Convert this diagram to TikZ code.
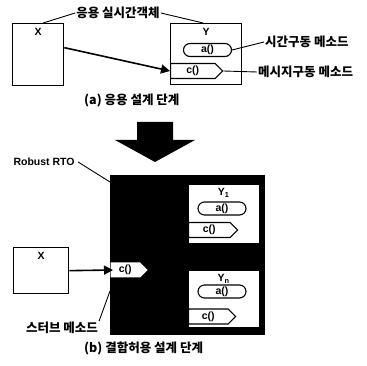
\documentclass[tikz,border=0pt]{standalone}
\usepackage{fontspec}
\setmainfont{Liberation Sans}
\newfontfamily\krfont{Noto Sans CJK KR}
\usepackage{tikz}
\usetikzlibrary{positioning,arrows.meta,shapes.misc,shapes.symbols}

\begin{document}
\begin{tikzpicture}[x=1pt,y=-1pt,
  font=\bfseries\fontsize{10.5}{12}\selectfont,
  obj/.style={draw,line width=1.3pt,fill=white,inner sep=0pt},
  meth/.style={draw,line width=1.1pt,fill=white,rounded rectangle,inner sep=0pt,
               minimum width=48pt,minimum height=13pt},
  msg/.style={draw,line width=1.1pt,fill=white,signal,signal to=east,inner sep=0pt,
              minimum height=15pt},
  kr/.style={font=\krfont\bfseries\fontsize{12.5}{14}\selectfont,inner sep=1pt},
  arr/.style={-{Triangle[length=9pt,width=9pt]},line width=1.6pt},
  lead/.style={line width=0.9pt}
]
\useasboundingbox (0,0) rectangle (367,366);

% (a) application design stage
\node[obj,anchor=north west,minimum width=51pt,minimum height=62pt] (xa) at (12,23) {};
\node[below=2pt of xa.north] (xalbl) {X};
\node[obj,anchor=north west,minimum width=71pt,minimum height=61pt] (ya) at (170,23) {};
\node[below=2pt of ya.north] (yalbl) {Y};
\node[meth] (aa) at (207.5,50) {a()};
\node[msg,anchor=west,minimum width=52pt] (ca) at (170,71) {c()};

\node[kr] (objlbl) at (118,13) {응용 실시간객체};
\draw[lead] (objlbl.west) -- ([xshift=5pt]xa.north);
\draw[lead] (objlbl.east) -- ([xshift=-3pt]ya.north);
\node[kr,anchor=west] (tdm) at (264,42) {시간구동 메소드};
\draw[lead] (aa.east) -- (tdm.west);
\node[kr,anchor=west] (mdm) at (257,72) {메시지구동 메소드};
\draw[lead] (ca.east) -- (mdm.west);
\draw[arr] ([yshift=7pt]xa.east) -- (ca.west);
\node[kr,anchor=west] (capa) at (83,101) {(a) 응용 설계 단계};

% step arrow
\fill (137,122) -- (173,122) -- (173,140) -- (195,140) -- (155,162)
  -- (115,140) -- (137,140) -- cycle;

% (b) fault-tolerant design stage
\node[fill=black,anchor=north west,minimum width=155pt,minimum height=160pt,
      inner sep=0pt] (rto) at (110,175) {};
\node[anchor=west] (rtolbl) at (10,162) {Robust RTO};
\draw[lead] (rtolbl.east) -- ([yshift=-7pt]rto.north west);

\node[obj,draw=none,anchor=north west,minimum width=70pt,minimum height=58pt] (y1) at (188,184) {};
\node[below=1pt of y1.north] (y1lbl) {Y\textsubscript{1}};
\node[meth] (a1) at (222,208.5) {a()};
\node[msg,anchor=west,minimum width=49pt] (c1) at (188,230) {c()};

\node[obj,draw=none,anchor=north west,minimum width=70pt,minimum height=56pt] (yn) at (188,270) {};
\node[below=1pt of yn.north] (ynlbl) {Y\textsubscript{n}};
\node[meth] (an) at (222,291.5) {a()};
\node[msg,anchor=west,minimum width=47pt] (cn) at (188,316.5) {c()};

\node[obj,anchor=north west,minimum width=55pt,minimum height=46pt] (xb) at (13,247) {};
\node[below=2pt of xb.north] (xblbl) {X};
\node[msg,draw=none,anchor=west,minimum width=37pt] (stub) at (110,270) {c()};
\draw[arr] (xb.east) -- ([xshift=3pt]stub.west);

\node[kr] (stublbl) at (62,328) {스터브 메소드};
\draw[lead] (stublbl.north east) -- ([yshift=-13pt]stub.south west);
\node[kr,anchor=west] (capb) at (83,348) {(b) 결함허용 설계 단계};
\end{tikzpicture}
\end{document}
